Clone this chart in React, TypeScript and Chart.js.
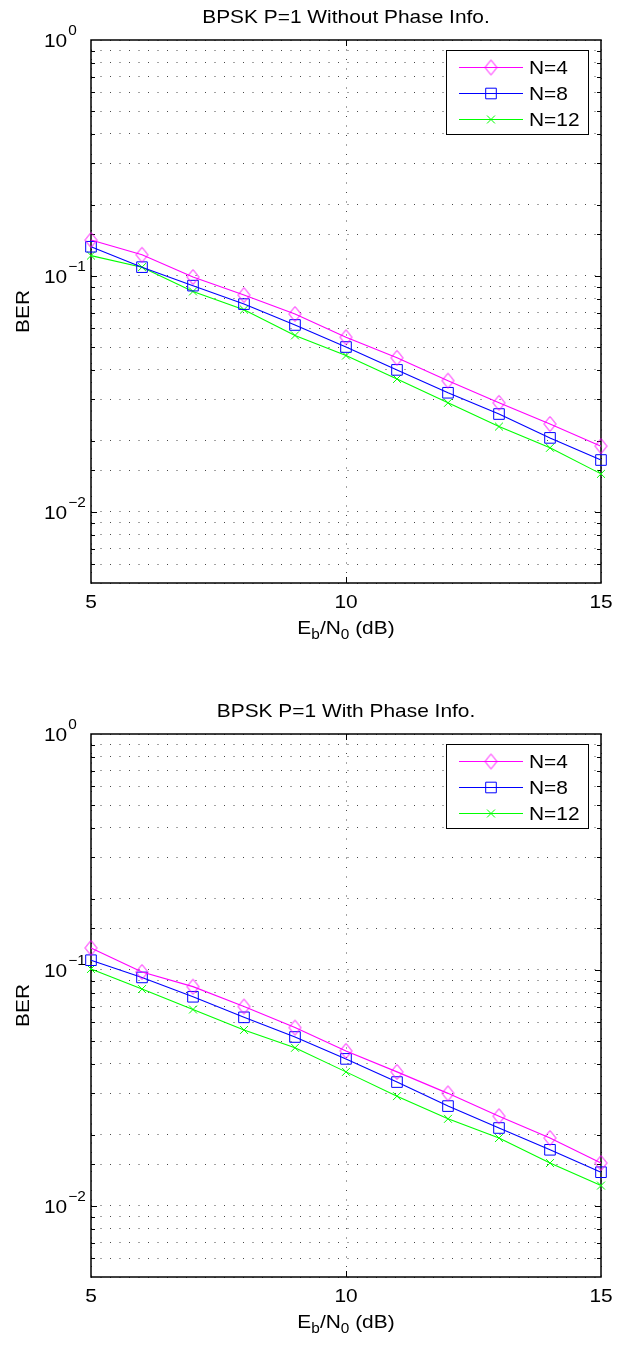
import React, { useEffect, useRef } from 'react';
import { Chart, registerables } from 'chart.js';

Chart.register(...registerables);

// ---------------- data ----------------
const ebN0 = [5, 6, 7, 8, 9, 10, 11, 12, 13, 14, 15];

const noPhaseN4 = [0.142, 0.123, 0.099, 0.083, 0.069, 0.055, 0.045, 0.036, 0.029, 0.0236, 0.019];
const noPhaseN8 = [0.133, 0.109, 0.091, 0.076, 0.062, 0.05, 0.04, 0.032, 0.026, 0.0206, 0.0166];
const noPhaseN12 = [0.122, 0.109, 0.086, 0.072, 0.056, 0.046, 0.0366, 0.029, 0.023, 0.0187, 0.0145];

const phaseN4 = [0.124, 0.098, 0.085, 0.07, 0.057, 0.0454, 0.037, 0.03, 0.024, 0.0194, 0.0152];
const phaseN8 = [0.11, 0.093, 0.077, 0.063, 0.052, 0.042, 0.0335, 0.0265, 0.0214, 0.0173, 0.0139];
const phaseN12 = [0.101, 0.083, 0.068, 0.0557, 0.0468, 0.037, 0.0292, 0.0234, 0.0194, 0.0152, 0.0122];

const seriesLabels = ['N=4', 'N=8', 'N=12'];
const xTickValues = [5, 10, 15];
const xTickLabels = ['5', '10', '15'];
const yDecadeValues = [1, 0.1, 0.01];
const yDecadeExponents = ['0', '\u22121', '\u22122'];
const titleTop = 'BPSK P=1 Without Phase Info.';
const titleBottom = 'BPSK P=1 With Phase Info.';
const yAxisTitle = 'BER';

// ---------------- styles ----------------
const COLORS = ['#ff00ff', '#0000ff', '#00ff00'];
const FONT = '"Liberation Sans", Arial, Helvetica, sans-serif';
const SX = 1.1;
const FS = 19;
const FS_SMALL = 14;
const GRID_COLOR = 'rgba(40,40,40,0.85)';

const W = 629;
const H = 652;
const PAD = { left: 91, right: 28, top: 40, bottom: 69 };

function makeDiamond(color: string): HTMLCanvasElement {
  const c = document.createElement('canvas');
  c.width = 15;
  c.height = 18;
  const g = c.getContext('2d')!;
  g.strokeStyle = color;
  g.lineWidth = 1;
  g.beginPath();
  g.moveTo(7.5, 1.5);
  g.lineTo(13.5, 9);
  g.lineTo(7.5, 16.5);
  g.lineTo(1.5, 9);
  g.closePath();
  g.stroke();
  return c;
}

function drawRuns(ctx: CanvasRenderingContext2D, runs: { t: string; s: number; dy: number }[], x: number, y: number, align: 'left' | 'center' | 'right') {
  ctx.save();
  const widths = runs.map((r) => {
    ctx.font = `${r.s}px ${FONT}`;
    return ctx.measureText(r.t).width * SX;
  });
  const total = widths.reduce((a, b) => a + b, 0);
  let cx = x;
  if (align === 'center') cx = x - total / 2;
  else if (align === 'right') cx = x - total;
  ctx.fillStyle = '#000';
  ctx.textAlign = 'left';
  ctx.textBaseline = 'alphabetic';
  runs.forEach((r, i) => {
    ctx.save();
    ctx.font = `${r.s}px ${FONT}`;
    ctx.translate(cx, y + r.dy);
    ctx.scale(SX, 1);
    ctx.fillText(r.t, 0, 0);
    ctx.restore();
    cx += widths[i];
  });
  ctx.restore();
  return total;
}

function drawMarker(ctx: CanvasRenderingContext2D, style: any, x: number, y: number, r: number, color: string) {
  if (typeof style !== 'string') {
    ctx.drawImage(style, x - style.width / 2, y - style.height / 2);
    return;
  }
  ctx.save();
  ctx.strokeStyle = color;
  ctx.lineWidth = 1;
  ctx.beginPath();
  if (style === 'rect') {
    const h = Math.SQRT1_2 * r;
    ctx.rect(x - h, y - h, 2 * h, 2 * h);
  } else {
    const h = Math.SQRT1_2 * r;
    ctx.moveTo(x - h, y - h);
    ctx.lineTo(x + h, y + h);
    ctx.moveTo(x + h, y - h);
    ctx.lineTo(x - h, y + h);
  }
  ctx.stroke();
  ctx.restore();
}

function makePlugin(title: string, pointStyles: any[], radii: number[]) {
  return {
    id: 'matlabStyle',
    beforeDatasetsDraw(chart: any) {
      const { ctx, chartArea: a, scales } = chart;
      ctx.save();
      ctx.strokeStyle = '#000';
      ctx.lineWidth = 1;
      ctx.setLineDash([]);
      scales.y.ticks.forEach((t: any) => {
        const v = t.value;
        if (v <= scales.y.min || v >= scales.y.max) return;
        const py = Math.round(scales.y.getPixelForValue(v)) + 0.5;
        const lg = Math.log10(v);
        const L = Math.abs(lg - Math.round(lg)) < 1e-6 ? 6 : 4;
        ctx.beginPath();
        ctx.moveTo(a.left, py);
        ctx.lineTo(a.left + L, py);
        ctx.moveTo(a.right, py);
        ctx.lineTo(a.right - L, py);
        ctx.stroke();
      });
      xTickValues.forEach((v) => {
        if (v <= scales.x.min || v >= scales.x.max) return;
        const px = Math.round(scales.x.getPixelForValue(v)) + 0.5;
        ctx.beginPath();
        ctx.moveTo(px, a.bottom);
        ctx.lineTo(px, a.bottom - 6);
        ctx.moveTo(px, a.top);
        ctx.lineTo(px, a.top + 6);
        ctx.stroke();
      });
      ctx.lineWidth = 1.5;
      ctx.strokeRect(Math.round(a.left), Math.round(a.top), Math.round(a.right - a.left), Math.round(a.bottom - a.top));
      ctx.restore();
    },
    afterDraw(chart: any) {
      const { ctx, chartArea: a, scales } = chart;
      const cx = (a.left + a.right) / 2;
      drawRuns(ctx, [{ t: title, s: FS, dy: 0 }], cx, a.top - 17, 'center');
      xTickValues.forEach((v, i) => {
        drawRuns(ctx, [{ t: xTickLabels[i], s: FS, dy: 0 }], scales.x.getPixelForValue(v), a.bottom + 25, 'center');
      });
      drawRuns(
        ctx,
        [
          { t: 'E', s: FS, dy: 0 },
          { t: 'b', s: FS_SMALL, dy: 5 },
          { t: '/N', s: FS, dy: 0 },
          { t: '0', s: FS_SMALL, dy: 5 },
          { t: ' (dB)', s: FS, dy: 0 },
        ],
        cx,
        a.bottom + 51,
        'center'
      );
      yDecadeValues.forEach((v, i) => {
        const py = scales.y.getPixelForValue(v);
        const w = drawRuns(ctx, [{ t: '10', s: FS, dy: 0 }], 44, py + 7, 'left');
        drawRuns(ctx, [{ t: yDecadeExponents[i], s: FS_SMALL, dy: 0 }], 44 + w + 1, py - 5, 'left');
      });
      ctx.save();
      ctx.translate(29, (a.top + a.bottom) / 2);
      ctx.rotate(-Math.PI / 2);
      ctx.scale(SX, 1);
      ctx.font = `${FS}px ${FONT}`;
      ctx.fillStyle = '#000';
      ctx.textAlign = 'center';
      ctx.textBaseline = 'alphabetic';
      ctx.fillText(yAxisTitle, 0, 0);
      ctx.restore();
      // legend
      const bx = 446;
      const by = a.top + 10;
      const bw = 142;
      const rowGap = 26;
      const bh = 84;
      ctx.save();
      ctx.fillStyle = '#fff';
      ctx.fillRect(bx, by, bw, bh);
      ctx.strokeStyle = '#000';
      ctx.lineWidth = 1;
      ctx.strokeRect(bx + 0.5, by + 0.5, bw, bh);
      ctx.restore();
      seriesLabels.forEach((lab, i) => {
        const ry = by + 17 + i * rowGap;
        ctx.save();
        ctx.strokeStyle = COLORS[i];
        ctx.lineWidth = 1;
        ctx.beginPath();
        ctx.moveTo(459, Math.round(ry) + 0.5);
        ctx.lineTo(523, Math.round(ry) + 0.5);
        ctx.stroke();
        ctx.restore();
        drawMarker(ctx, pointStyles[i], 491, Math.round(ry) + 0.5, radii[i], COLORS[i]);
        drawRuns(ctx, [{ t: lab, s: FS, dy: 0 }], 529, ry + 7, 'left');
      });
    },
  };
}

function BerPlot({ title, series, top }: { title: string; series: number[][]; top: number }) {
  const ref = useRef<HTMLCanvasElement | null>(null);
  useEffect(() => {
    if (!ref.current) return;
    const pointStyles: any[] = [makeDiamond(COLORS[0]), 'rect', 'crossRot'];
    const radii = [7, 7.5, 5.6];
    const datasets = series.map((vals, i) => ({
      label: seriesLabels[i],
      data: ebN0.map((x, j) => ({ x, y: vals[j] })),
      borderColor: COLORS[i],
      backgroundColor: 'rgba(0,0,0,0)',
      borderWidth: 1.1,
      pointStyle: pointStyles[i],
      pointRadius: radii[i],
      pointBorderColor: COLORS[i],
      pointBackgroundColor: 'rgba(0,0,0,0)',
      pointBorderWidth: 1,
      tension: 0,
      fill: false,
      clip: false as any,
    }));
    const chart = new Chart(ref.current, {
      type: 'line',
      data: { datasets },
      options: {
        responsive: false,
        animation: false,
        events: [],
        layout: { padding: PAD },
        plugins: { legend: { display: false }, title: { display: false }, tooltip: { enabled: false } },
        scales: {
          x: {
            type: 'linear',
            min: 5,
            max: 15,
            ticks: { display: false, stepSize: 5, autoSkip: false },
            grid: { color: GRID_COLOR, lineWidth: 1, drawTicks: false },
            border: { display: false, dash: [1, 8.5] },
          },
          y: {
            type: 'logarithmic',
            min: 0.005,
            max: 1,
            ticks: { display: false, autoSkip: false },
            grid: { color: GRID_COLOR, lineWidth: 1, drawTicks: false },
            border: { display: false, dash: [1, 8.5] },
          },
        },
      } as any,
      plugins: [makePlugin(title, pointStyles, radii) as any],
    });
    return () => chart.destroy();
  }, []);
  return (
    <div style={{ position: 'absolute', left: 0, top, width: W, height: H }}>
      <canvas ref={ref} width={W} height={H} style={{ display: 'block', width: W, height: H }} />
    </div>
  );
}

export default function App() {
  return (
    <div style={{ position: 'absolute', left: 0, top: 0, width: 629, height: 1346, background: '#fff', overflow: 'hidden' }}>
      <BerPlot title={titleTop} series={[noPhaseN4, noPhaseN8, noPhaseN12]} top={0} />
      <BerPlot title={titleBottom} series={[phaseN4, phaseN8, phaseN12]} top={694} />
    </div>
  );
}
